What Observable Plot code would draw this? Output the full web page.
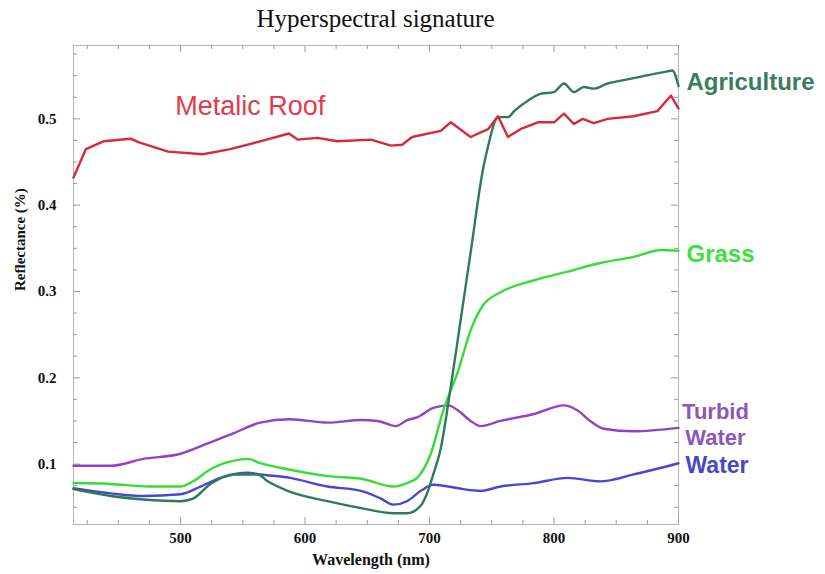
<!DOCTYPE html>
<html>
<head>
<meta charset="utf-8">
<script src="https://cdn.jsdelivr.net/npm/d3@7"></script>
<script src="https://cdn.jsdelivr.net/npm/@observablehq/plot@0.6"></script>
<style>
  html, body { margin: 0; padding: 0; background: #fff; }
  #title { box-sizing: border-box; width: 825px; height: 34px; padding: 4px 147px 0 73px; text-align: center;
    font-family: "Liberation Serif", "DejaVu Serif", serif; font-size: 25px; line-height: 30px; color: #111; }
  #chart svg { display: block; }
</style>
</head>
<body>
<div id="title">Hyperspectral signature</div>
<div id="chart"></div>
<script>
// ---------- data ----------
const roofWavelength = [414,424,438,460,466,490,518,540,564,587,594,610,626,653,669,678,686,709,717,733,747,755,763,773,787,800,808,816,823,832,843,864,883,894,900];
const roofReflectance = [0.432,0.465,0.474,0.477,0.473,0.462,0.459,0.465,0.474,0.483,0.476,0.478,0.474,0.476,0.469,0.470,0.479,0.486,0.496,0.479,0.488,0.503,0.479,0.488,0.496,0.496,0.506,0.494,0.500,0.495,0.500,0.503,0.509,0.527,0.512];

const agriWavelength = [414,444,470,500,510,524,543,562,570,586,618,645,671,682,693,698,703,709,717,725,733,743,747,755,763,768,779,789,800,808,816,824,832,843,853,870,891,895,900];
const agriReflectance = [0.071,0.063,0.059,0.057,0.060,0.077,0.088,0.088,0.080,0.069,0.057,0.049,0.043,0.043,0.052,0.066,0.088,0.118,0.189,0.267,0.345,0.442,0.468,0.502,0.502,0.509,0.521,0.529,0.531,0.541,0.531,0.537,0.535,0.541,0.544,0.549,0.555,0.556,0.538];

const grassWavelength = [414,444,474,500,510,524,543,554,564,586,618,645,671,682,690,701,711,723,733,743,757,784,811,837,864,886,900];
const grassReflectance = [0.078,0.077,0.074,0.074,0.080,0.094,0.104,0.106,0.101,0.094,0.086,0.083,0.074,0.078,0.084,0.112,0.162,0.208,0.255,0.284,0.299,0.313,0.323,0.333,0.340,0.348,0.347];

const turbidWavelength = [414,444,470,500,522,543,564,588,618,645,658,673,682,690,703,715,723,733,741,757,784,808,819,829,840,864,900];
const turbidReflectance = [0.098,0.098,0.106,0.112,0.124,0.136,0.148,0.152,0.148,0.151,0.150,0.144,0.151,0.154,0.165,0.168,0.162,0.150,0.144,0.150,0.158,0.168,0.162,0.150,0.141,0.138,0.142];

const waterWavelength = [414,444,470,500,516,532,554,564,588,618,645,661,671,682,693,703,715,727,741,757,784,811,837,864,900];
const waterReflectance = [0.072,0.066,0.063,0.065,0.074,0.084,0.090,0.088,0.084,0.074,0.069,0.060,0.053,0.057,0.069,0.076,0.074,0.071,0.069,0.074,0.078,0.084,0.080,0.088,0.101];

const seriesNames = ["Metalic Roof", "Agriculture", "Grass", "Turbid\nWater", "Water"];
const roofLabelWavelength = 556;
const roofLabelReflectance = 0.514;

const xDomain = [414, 900];
const yDomain = [0.03, 0.585];
const xMajorTicks = [500, 600, 700, 800, 900];
const xMinorTicks = [425, 450, 475, 525, 550, 575, 625, 650, 675, 725, 750, 775, 825, 850, 875];
const yMajorTicks = [0.1, 0.2, 0.3, 0.4, 0.5];
const yMinorTicks = [0.05, 0.075, 0.125, 0.15, 0.175, 0.225, 0.25, 0.275, 0.325, 0.35, 0.375, 0.425, 0.45, 0.475, 0.525, 0.55, 0.575];
const xLabel = "Wavelength (nm)";
const yLabel = "Reflectance (%)";

// ---------- build ----------
const toRows = (ws, vs) => ws.map((w, i) => ({wavelength: w, reflectance: vs[i]}));
const roof = toRows(roofWavelength, roofReflectance);
const agri = toRows(agriWavelength, agriReflectance);
const grass = toRows(grassWavelength, grassReflectance);
const turbid = toRows(turbidWavelength, turbidReflectance);
const water = toRows(waterWavelength, waterReflectance);

const W = 825, H = 540;
const mt = 11, mb = 50, ml = 73, mr = 147;
const innerH = H - mt - mb, innerW = W - ml - mr;
const serif = "Liberation Serif, DejaVu Serif, serif";
const sans = "Liberation Sans, Arial, sans-serif";
const tickColor = "#9a9a9a";

const colors = {
  roof: "#d42a3c", roofText: "#e23b4c",
  agri: "#2e7b58", agriText: "#3a7d5c",
  grass: "#38dc38", grassText: "#3fe03f",
  turbid: "#9242c4", turbidText: "#8c58b8",
  water: "#4747d2", waterText: "#4646cc"
};

const lineOpts = (curve, stroke) => ({x: "wavelength", y: "reflectance", stroke, strokeWidth: 2.4, curve});

const chart = Plot.plot({
  width: W, height: H,
  marginTop: mt, marginBottom: mb, marginLeft: ml, marginRight: mr,
  x: {domain: xDomain},
  y: {domain: yDomain},
  style: {background: "#fff", fontFamily: serif},
  marks: [
    Plot.frame({stroke: "#b5b5b5"}),
    // ticks inside the frame
    Plot.tickX(xMajorTicks, {x: d => d, insetTop: innerH - 7, stroke: tickColor}),
    Plot.tickX(xMinorTicks, {x: d => d, insetTop: innerH - 4, stroke: tickColor}),
    Plot.tickX(xMajorTicks, {x: d => d, insetBottom: innerH - 7, stroke: tickColor}),
    Plot.tickX(xMinorTicks, {x: d => d, insetBottom: innerH - 4, stroke: tickColor}),
    Plot.tickY(yMajorTicks, {y: d => d, insetRight: innerW - 7, stroke: tickColor}),
    Plot.tickY(yMinorTicks, {y: d => d, insetRight: innerW - 4, stroke: tickColor}),
    Plot.tickY(yMajorTicks, {y: d => d, insetLeft: innerW - 7, stroke: tickColor}),
    Plot.tickY(yMinorTicks, {y: d => d, insetLeft: innerW - 4, stroke: tickColor}),
    Plot.axisX(xMajorTicks, {tickSize: 0, tickPadding: 8, label: null, fontSize: 15, fontWeight: "bold", fontFamily: serif, fill: "#111"}),
    Plot.axisY(yMajorTicks, {tickSize: 0, tickPadding: 17, label: null, tickFormat: ".1f", fontSize: 15, fontWeight: "bold", fontFamily: serif, fill: "#111"}),
    Plot.text([xLabel], {frameAnchor: "bottom", text: d => d, dy: 40, fontSize: 16, fontWeight: "bold", fontFamily: serif, fill: "#111", dx: -5}),
    Plot.text([yLabel], {frameAnchor: "left", text: d => d, rotate: -90, dx: -53, dy: 6, fontSize: 15, fontWeight: "bold", fontFamily: serif, fill: "#111"}),
    // lines
    Plot.line(turbid, lineOpts("monotone-x", colors.turbid)),
    Plot.line(water, lineOpts("monotone-x", colors.water)),
    Plot.line(grass, lineOpts("monotone-x", colors.grass)),
    Plot.line(agri, lineOpts("monotone-x", colors.agri)),
    Plot.line(roof, lineOpts("linear", colors.roof)),
    // labels
    Plot.text([{name: seriesNames[0], wavelength: roofLabelWavelength, reflectance: roofLabelReflectance}],
      {x: "wavelength", y: "reflectance", text: "name", fontSize: 27, fontFamily: sans, fill: colors.roofText}),
    Plot.text(agri, Plot.selectLast({x: "wavelength", y: "reflectance", text: () => seriesNames[1], textAnchor: "start", dx: 8, dy: -4, fontSize: 24, fontWeight: "bold", fontFamily: sans, fill: colors.agriText})),
    Plot.text(grass, Plot.selectLast({x: "wavelength", y: "reflectance", text: () => seriesNames[2], textAnchor: "start", dx: 8, dy: 3, fontSize: 24, fontWeight: "bold", fontFamily: sans, fill: colors.grassText})),
    Plot.text(turbid, Plot.selectLast({x: "wavelength", y: "reflectance", text: () => seriesNames[3], textAnchor: "middle", lineAnchor: "middle", lineHeight: 1.2, dx: 37, dy: -4, fontSize: 22, fontWeight: "bold", fontFamily: sans, fill: colors.turbidText})),
    Plot.text(water, Plot.selectLast({x: "wavelength", y: "reflectance", text: () => seriesNames[4], textAnchor: "start", dx: 7, dy: 2, fontSize: 23, fontWeight: "bold", fontFamily: sans, fill: colors.waterText}))
  ]
});
document.getElementById("chart").appendChild(chart);
</script>
</body>
</html>
